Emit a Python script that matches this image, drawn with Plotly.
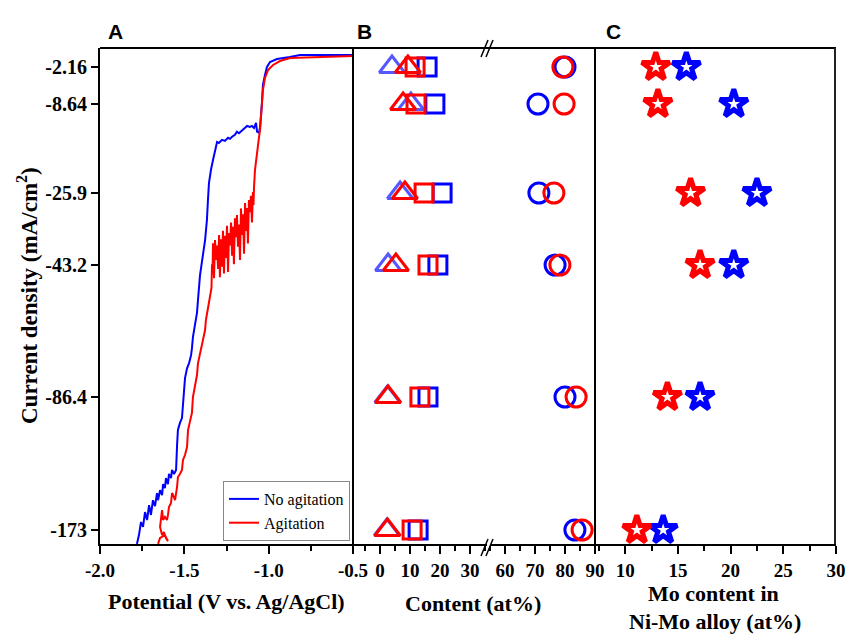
import numpy as np
import plotly.graph_objects as go

# ---------------- data ----------------
# Panel A: polarization curves (potential V vs Ag/AgCl, current density mA/cm2)
blue_V = [-0.500, -0.700, -0.814, -0.874, -0.951, -0.992, -1.010, -1.022, -1.034, -1.040,
          -1.045, -1.051, -1.057, -1.069, -1.075, -1.081, -1.087, -1.099, -1.111, -1.128,
          -1.140, -1.152, -1.164, -1.176, -1.188, -1.200, -1.217, -1.229, -1.241, -1.259,
          -1.277, -1.295, -1.306, -1.318, -1.330, -1.342, -1.354, -1.360, -1.366, -1.377,
          -1.389, -1.395, -1.407, -1.419, -1.425, -1.437, -1.449, -1.455, -1.460, -1.472,
          -1.484, -1.496, -1.502, -1.508, -1.514, -1.526, -1.538, -1.543, -1.549, -1.549,
          -1.561, -1.573, -1.579, -1.591, -1.597, -1.609, -1.615, -1.626, -1.632, -1.644,
          -1.656, -1.662, -1.674, -1.686, -1.698, -1.709, -1.721, -1.733, -1.745, -1.757,
          -1.769, -1.781]
blue_J = [-0.06, -0.06, -0.06, -0.41, -0.76, -1.28, -2.16, -3.56, -5.31, -8.46,
          -11.35, -13.1, -14.2, -14.0, -12.3, -12.7, -13.3, -12.9, -13.1, -12.9,
          -13.3, -13.5, -13.9, -14.3, -14.0, -14.6, -15.0, -15.4, -15.2, -15.8,
          -15.6, -16.2, -16.0, -17.5, -19.5, -21.4, -24.0, -27.6, -32.4, -37.2,
          -40.8, -43.2, -46.5, -54.6, -58.9, -62.8, -66.8, -70.5, -72.7, -75.3,
          -77.0, -80.2, -84.1, -91.6, -100.1, -103.3, -107.9, -117.7, -127.4, -133.9,
          -136.5, -133.9, -139.2, -136.5, -143.1, -139.2, -145.7, -143.1, -150.3, -147.1,
          -153.6, -149.0, -157.5, -153.6, -163.2, -156.8, -166.5, -161.3, -171.0, -167.8,
          -176.3, -182.0]

red_V = [-0.500, -0.700, -0.814, -0.874, -0.933, -0.974, -1.004, -1.022, -1.034, -1.040,
         -1.045, -1.051, -1.057, -1.063, -1.069, -1.075, -1.081, -1.087,
         -1.090, -1.093, -1.099, -1.105, -1.111, -1.117, -1.123, -1.128, -1.134, -1.140,
         -1.146, -1.152, -1.158, -1.164, -1.170, -1.176, -1.182, -1.188, -1.194, -1.200,
         -1.206, -1.211, -1.217, -1.223, -1.229, -1.235, -1.241, -1.247, -1.253, -1.259,
         -1.265, -1.271, -1.277, -1.283, -1.289, -1.294, -1.300, -1.306, -1.312, -1.318,
         -1.324, -1.330, -1.333, -1.336, -1.339,
         -1.348, -1.360, -1.366, -1.372, -1.377, -1.389, -1.395, -1.407, -1.419, -1.425,
         -1.431, -1.443, -1.449, -1.455, -1.466, -1.478, -1.484, -1.496, -1.508, -1.514,
         -1.526, -1.538, -1.543, -1.549, -1.555, -1.567, -1.573, -1.579, -1.591, -1.597,
         -1.603, -1.615, -1.626, -1.632, -1.638, -1.644, -1.632, -1.621, -1.609, -1.597,
         -1.615, -1.644, -1.656]
red_J = [-0.23, -0.41, -0.41, -0.58, -1.11, -1.81, -2.69, -4.09, -6.19, -9.22,
         -11.74, -13.67, -15.0, -16.6, -18.3, -19.5, -21.4, -24.9,
         -28.8, -25.7, -33.0, -26.6, -30.5, -27.6, -38.0, -29.5, -35.0, -28.3,
         -40.5, -31.0, -36.0, -29.6, -42.0, -33.5, -38.8, -31.2, -36.5, -32.0,
         -43.0, -34.0, -41.0, -33.0, -38.5, -35.5, -45.5, -33.8, -41.5, -36.2,
         -46.0, -35.0, -43.8, -37.0, -47.2, -36.0, -44.5, -38.5, -42.0, -37.2,
         -47.5, -38.0, -46.0, -43.0, -50.7,
         -53.7, -56.3, -58.9, -61.2, -64.5, -67.7, -70.0, -72.7, -75.3, -79.2,
         -80.8, -84.1, -86.4, -96.8, -102.7, -107.9, -119.0, -124.2, -127.4, -133.9,
         -136.5, -138.5, -145.0, -148.9, -153.5, -150.2, -148.9, -155.4, -158.0, -163.2,
         -166.5, -164.5, -166.5, -160.0, -167.8, -171.0, -176.3, -174.3, -178.2, -180.2,
         -176.3, -178.2, -182.0]

# Rows (applied current densities, mA/cm2) used in panels B and C
rows = [-2.16, -8.64, -25.9, -43.2, -86.4, -173.0]
row_labels = ["-2.16", "-8.64", "-25.9", "-43.2", "-86.4", "-173"]

# Panel B: element content (at%)
tri_blue = [4.0, 10.3, 6.7, 2.7, 2.5, 2.3]
tri_red = [9.3, 7.7, 8.3, 5.3, 2.7, 2.5]
sq_blue = [15.7, 18.3, 20.7, 19.3, 16.0, 12.7]
sq_red = [11.7, 12.0, 14.7, 16.0, 13.3, 10.7]
circ_blue = [80.0, 71.0, 71.3, 76.7, 80.0, 83.3]
circ_red = [79.3, 79.7, 76.3, 78.3, 83.7, 85.7]

# Panel C: Mo content in Ni-Mo alloy (at%)
mo_blue = [15.8, 20.3, 22.5, 20.3, 17.1, 13.6]
mo_red = [12.9, 13.1, 16.2, 17.1, 14.0, 11.1]

# ---------------- nonlinear current-density scale of the original axis ----------------
J_KNOTS = np.array([1.17, -2.16, -8.64, -25.9, -43.2, -86.4, -173.0, -182.1])
U_KNOTS = np.array([0, 19, 56, 145, 217, 349, 482, 496], dtype=float)


def to_axis(j):
    return np.interp(-np.asarray(j, dtype=float), -J_KNOTS, U_KNOTS)


BLUE = "#0000FF"
RED = "#FF0000"
SERIF = "Liberation Serif"
W, H = 845, 635
L, R, T, B = 100, 9, 48, 91
PW, PH = W - L - R, H - T - B


def px(x):  # window pixel -> paper
    return (x - L) / PW


def py(y):
    return (H - B - y) / PH


fig = go.Figure()

# Panel A
fig.add_trace(go.Scatter(x=blue_V, y=to_axis(blue_J), mode="lines", name="No agitation",
                         line=dict(color=BLUE, width=2), xaxis="x", yaxis="y"))
fig.add_trace(go.Scatter(x=red_V, y=to_axis(red_J), mode="lines", name="Agitation",
                         line=dict(color=RED, width=2), xaxis="x", yaxis="y"))

yr = to_axis(rows)


def mk(symbol, color, size, width, opacity=1.0):
    return dict(symbol=symbol, size=size, color=color, opacity=opacity,
                line=dict(color=color, width=width))


# Panel B, left segment
fig.add_trace(go.Scatter(x=tri_blue, y=yr, mode="markers", showlegend=False,
                         marker=mk("triangle-up-open", "#3a3aff", 22, 3, 0.85), xaxis="x2", yaxis="y"))
fig.add_trace(go.Scatter(x=sq_blue, y=yr, mode="markers", showlegend=False,
                         marker=mk("square-open", BLUE, 18, 3), xaxis="x2", yaxis="y"))
fig.add_trace(go.Scatter(x=sq_red, y=yr, mode="markers", showlegend=False,
                         marker=mk("square-open", RED, 18, 3), xaxis="x2", yaxis="y"))
fig.add_trace(go.Scatter(x=tri_red, y=yr, mode="markers", showlegend=False,
                         marker=mk("triangle-up-open", RED, 22, 3), xaxis="x2", yaxis="y"))
# Panel B, right segment
fig.add_trace(go.Scatter(x=circ_blue, y=yr, mode="markers", showlegend=False,
                         marker=mk("circle-open", BLUE, 20, 3), xaxis="x3", yaxis="y"))
fig.add_trace(go.Scatter(x=circ_red, y=yr, mode="markers", showlegend=False,
                         marker=mk("circle-open", RED, 20, 3), xaxis="x3", yaxis="y"))
# Panel C
fig.add_trace(go.Scatter(x=mo_blue, y=yr, mode="markers", showlegend=False,
                         marker=mk("star-open", BLUE, 21, 5), xaxis="x4", yaxis="y"))
fig.add_trace(go.Scatter(x=mo_red, y=yr, mode="markers", showlegend=False,
                         marker=mk("star-open", RED, 21, 5), xaxis="x4", yaxis="y"))

tickfont = dict(family=SERIF, size=19, color="black", weight="bold")
common_x = dict(showgrid=False, zeroline=False, showline=True, linecolor="black", linewidth=2,
                ticks="outside", ticklen=8, tickwidth=1.5, tickcolor="black",
                tickfont=tickfont, anchor="y", fixedrange=True, automargin=False,
                ticklabeloverflow="allow")
minor_style = dict(ticks="outside", ticklen=5, tickcolor="black", tickwidth=1.5)

fig.update_layout(
    width=W, height=H,
    margin=dict(l=L, r=R, t=T, b=B, autoexpand=False),
    plot_bgcolor="white", paper_bgcolor="white",
    xaxis=dict(domain=[0, px(353)], range=[-2.0, -0.5], tickvals=[-2.0, -1.5, -1.0, -0.5],
               ticktext=["-2.0", "-1.5", "-1.0", "-0.5"],
               minor=dict(tickvals=[-1.75, -1.25, -0.75], **minor_style),
               **common_x),
    xaxis2=dict(domain=[px(353), px(487)], range=[-9, 35.67], tickvals=[0, 10, 20, 30],
                minor=dict(tickvals=[-5, 5, 15, 25, 35], **minor_style),
                **common_x),
    xaxis3=dict(domain=[px(490), px(595)], range=[55, 90], tickvals=[60, 70, 80, 90],
                minor=dict(tickvals=[55, 65, 75, 85], **minor_style),
                **common_x),
    xaxis4=dict(domain=[px(595), 1.0], range=[7.13, 30], tickvals=[10, 15, 20, 25, 30],
                minor=dict(tickvals=[7.5, 12.5, 17.5, 22.5, 27.5], **minor_style),
                **common_x),
    yaxis=dict(domain=[0, 1], range=[496, 0], tickvals=list(to_axis(rows)), ticktext=row_labels,
               showgrid=False, zeroline=False, showline=True, linecolor="black", linewidth=2,
               ticks="outside", ticklen=7, tickwidth=1.5, tickcolor="black",
               tickfont=dict(family=SERIF, size=20, color="black", weight="bold"),
               anchor="x", fixedrange=True, automargin=False),
    legend=dict(x=px(350), y=py(541), xanchor="right", yanchor="bottom",
                bgcolor="white", bordercolor="#888888", borderwidth=1,
                font=dict(family=SERIF, size=16, color="black"),
                tracegroupgap=0, itemwidth=30),
    showlegend=True,
)

# Frames
shapes = []
frame = dict(type="line", xref="paper", yref="paper", line=dict(color="black", width=2))
shapes.append(dict(frame, x0=0, x1=1, y0=1, y1=1))
shapes.append(dict(frame, x0=px(353), x1=px(353), y0=0, y1=1))
shapes.append(dict(frame, x0=px(595), x1=px(595), y0=0, y1=1))
shapes.append(dict(frame, x0=px(835), x1=px(835), y0=0, y1=1,
                   line=dict(color="#222222", width=2)))
# Axis-break marks
for (xa, ya, xb, yb) in [(481, 556, 488, 539), (486, 556, 493, 539),
                         (481, 57, 488, 40), (486, 57, 493, 40)]:
    shapes.append(dict(type="line", xref="paper", yref="paper",
                       x0=px(xa), y0=py(ya), x1=px(xb), y1=py(yb),
                       line=dict(color="black", width=1.5)))
fig.update_layout(shapes=shapes)

title_font = dict(family=SERIF, size=22, color="black", weight="bold")
ann = []
ann.append(dict(text="Potential (V vs. Ag/AgCl)", x=px(226), y=py(601), font=title_font))
ann.append(dict(text="Content (at%)", x=px(473), y=py(603), font=title_font))
ann.append(dict(text="Mo content in", x=px(713), y=py(593), font=title_font))
ann.append(dict(text="Ni-Mo alloy (at%)", x=px(715), y=py(621), font=title_font))
ann.append(dict(text="Current density (mA/cm<sup>2</sup>)", x=px(27), y=py(296),
                textangle=-90, font=dict(family=SERIF, size=23, color="black", weight="bold")))
letter_font = dict(family="Liberation Sans", size=21, color="black", weight="bold")
ann.append(dict(text="A", x=px(115), y=py(31), font=letter_font))
ann.append(dict(text="B", x=px(364), y=py(31), font=letter_font))
ann.append(dict(text="C", x=px(613), y=py(31), font=letter_font))
for a in ann:
    a.update(xref="paper", yref="paper", showarrow=False, xanchor="center", yanchor="middle")
fig.update_layout(annotations=ann)

fig.write_html("out.html", config={"displayModeBar": False},
               post_script="document.body.style.margin='0';"
                           "document.documentElement.style.overflow='hidden';")
